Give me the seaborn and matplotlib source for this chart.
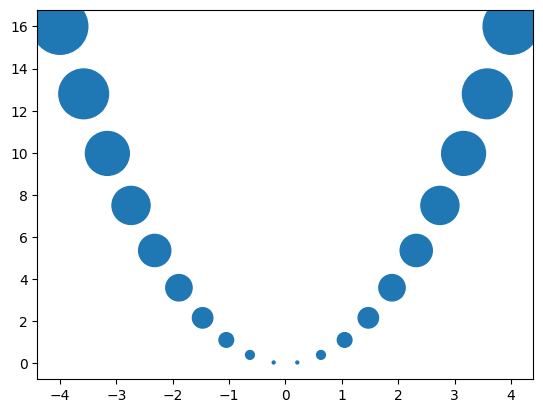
import matplotlib
matplotlib.use("Agg")
import matplotlib.pyplot as plt
import seaborn as sns

# values
x_vals = [-4.0, -3.58, -3.16, -2.74, -2.32, -1.89, -1.47, -1.05, -0.63, -0.21,
          0.21, 0.63, 1.05, 1.47, 1.89, 2.32, 2.74, 3.16, 3.58, 4.0]
y_vals = [16.0, 12.8, 9.97, 7.5, 5.36, 3.59, 2.16, 1.11, 0.40, 0.04,
          0.04, 0.40, 1.11, 2.16, 3.59, 5.36, 7.5, 9.97, 12.8, 16.0]
marker_area = [1600, 1280, 997, 750, 536, 359, 216, 111, 40, 4.4,
               4.4, 40, 111, 216, 359, 536, 750, 997, 1280, 1600]

fig, ax = plt.subplots(figsize=(6.4, 4.8), dpi=100)
sns.scatterplot(x=x_vals, y=y_vals, s=marker_area, color="#1f77b4",
                edgecolor="#1f77b4", linewidth=1.0, alpha=1, ax=ax)
ax.set_xlabel("")
ax.set_ylabel("")

plt.savefig("out.png", dpi=100, bbox_inches="tight")
